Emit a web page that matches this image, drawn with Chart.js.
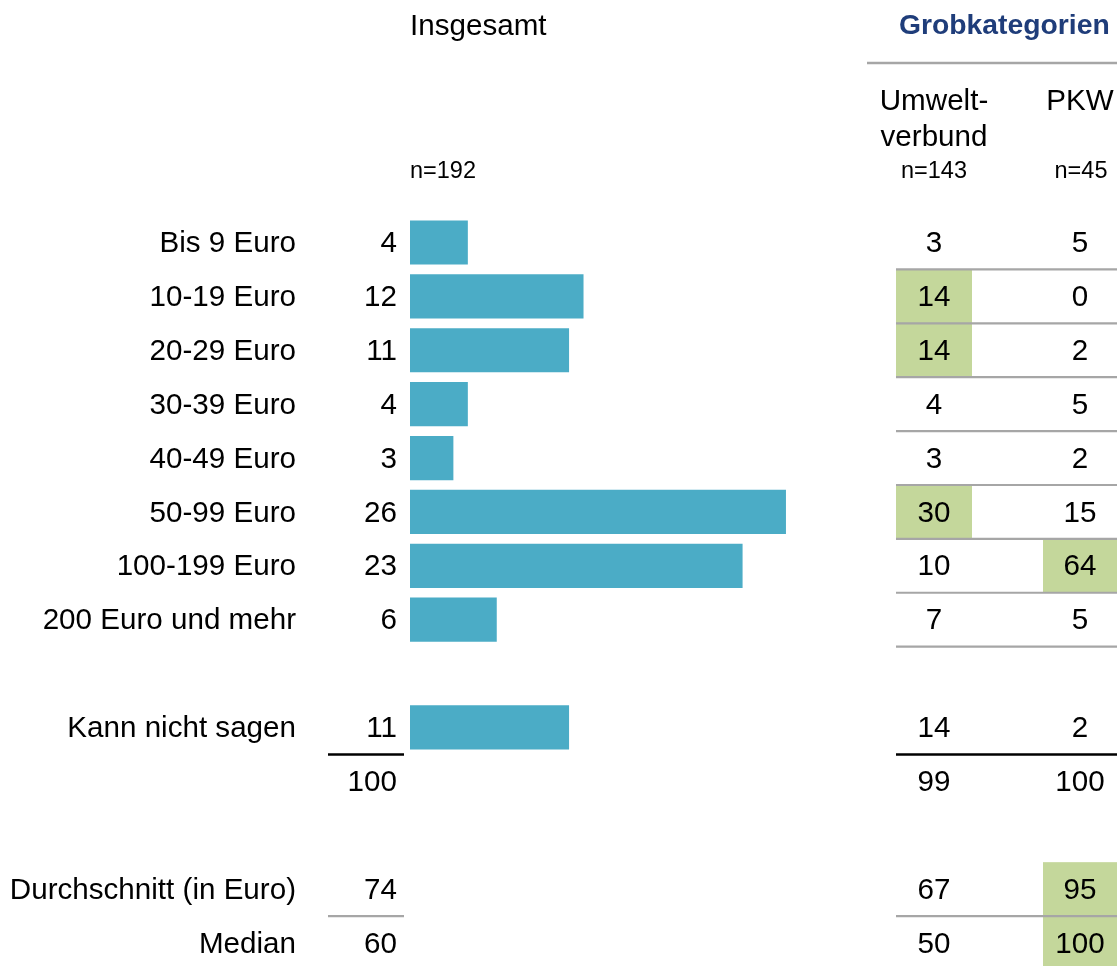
<!DOCTYPE html>
<html>
<head>
<meta charset="utf-8">
<script src="https://cdn.jsdelivr.net/npm/chart.js@4/dist/chart.umd.min.js"></script>
<style>
  html, body { margin: 0; padding: 0; background: #ffffff; }
  #wrap { width: 1117px; height: 966px; position: relative; }
</style>
</head>
<body>
<div id="wrap"><canvas id="c" width="1117" height="966"></canvas></div>
<script>
// ---- Data ----
const rowLabels = ['Bis 9 Euro', '10-19 Euro', '20-29 Euro', '30-39 Euro', '40-49 Euro',
  '50-99 Euro', '100-199 Euro', '200 Euro und mehr', '', 'Kann nicht sagen', '', '',
  'Durchschnitt (in Euro)', 'Median'];
const totalValues   = [4, 12, 11, 4, 3, 26, 23, 6, null, 11, 100, null, 74, 60];
const barValues     = [4, 12, 11, 4, 3, 26, 23, 6, null, 11, null, null, null, null];
const umweltValues  = [3, 14, 14, 4, 3, 30, 10, 7, null, 14, 99, null, 67, 50];
const pkwValues     = [5, 0, 2, 5, 2, 15, 64, 5, null, 2, 100, null, 95, 100];
const umweltHighlight = [false, true, true, false, false, true, false, false, false, false, false, false, false, false];
const pkwHighlight    = [false, false, false, false, false, false, true, false, false, false, false, false, true, true];
const headerTotal = 'Insgesamt';
const headerGroup = 'Grobkategorien';
const colHeaders = [['Umwelt-', 'verbund'], ['PKW']];
const nTotal = 'n=192';
const nCols = ['n=143', 'n=45'];

// ---- Styling constants ----
const FONT = '"Liberation Sans", Arial, sans-serif';
const F_MAIN = '29.6px ' + FONT;
const F_SMALL = '23.5px ' + FONT;
const F_BOLD = 'bold 28.3px ' + FONT;
const GRAY = '#a6a6a6';
const GREEN = '#c4d79b';
const BAR = '#4bacc6';
const COL_X = [934, 1080];
const CELL = [[896, 972], [1043, 1117]];
const TY = 1.5; // text vertical nudge

const tablePlugin = {
  id: 'tablePlugin',
  beforeDatasetsDraw(chart) {
    const ctx = chart.ctx;
    const y = chart.scales.y;
    const half = (y.getPixelForValue(1) - y.getPixelForValue(0)) / 2;
    ctx.save();
    ctx.fillStyle = GREEN;
    const hl = [umweltHighlight, pkwHighlight];
    hl.forEach((arr, c) => {
      arr.forEach((on, i) => {
        if (!on) return;
        const yc = y.getPixelForValue(i);
        ctx.fillRect(CELL[c][0], yc - half, CELL[c][1] - CELL[c][0], half * 2);
      });
    });
    ctx.restore();
  },
  afterDatasetsDraw(chart) {
    const ctx = chart.ctx;
    const y = chart.scales.y;
    const py = i => y.getPixelForValue(i);
    const between = i => (py(i) + py(i + 1)) / 2;
    ctx.save();

    // header texts
    ctx.fillStyle = '#000';
    ctx.textBaseline = 'middle';
    ctx.font = F_MAIN;
    ctx.textAlign = 'left';
    ctx.fillText(headerTotal, 410, 25 + TY);
    ctx.font = F_BOLD;
    ctx.fillStyle = '#1f3d7a';
    ctx.fillText(headerGroup, 899, 25 + TY);
    ctx.fillStyle = '#000';

    // underline of group header
    ctx.strokeStyle = GRAY;
    ctx.lineWidth = 2.5;
    ctx.beginPath(); ctx.moveTo(867, 63); ctx.lineTo(1117, 63); ctx.stroke();

    ctx.font = F_MAIN;
    ctx.textAlign = 'center';
    colHeaders.forEach((lines, c) => {
      lines.forEach((t, k) => ctx.fillText(t, COL_X[c], 100 + TY + k * 36));
    });
    ctx.font = F_SMALL;
    ctx.textAlign = 'left';
    ctx.fillText(nTotal, 410, 170 + TY);
    ctx.textAlign = 'center';
    ctx.fillText(nCols[0], COL_X[0], 170 + TY);
    ctx.fillText(nCols[1], COL_X[1] + 1, 170 + TY);

    // row labels and values
    ctx.font = F_MAIN;
    rowLabels.forEach((lab, i) => {
      const yc = py(i) + TY;
      if (lab) { ctx.textAlign = 'right'; ctx.fillText(lab, 296, yc); }
      if (totalValues[i] !== null) { ctx.textAlign = 'right'; ctx.fillText(String(totalValues[i]), 397, yc); }
      ctx.textAlign = 'center';
      if (umweltValues[i] !== null) ctx.fillText(String(umweltValues[i]), COL_X[0], yc);
      if (pkwValues[i] !== null) ctx.fillText(String(pkwValues[i]), COL_X[1], yc);
    });

    // separator lines in the group table
    ctx.strokeStyle = GRAY;
    ctx.lineWidth = 2.2;
    for (let i = 0; i <= 7; i++) {
      const yy = between(i);
      ctx.beginPath(); ctx.moveTo(896, yy); ctx.lineTo(1117, yy); ctx.stroke();
    }
    // total line (black)
    const yt = between(9);
    ctx.strokeStyle = '#000';
    ctx.lineWidth = 2.5;
    ctx.beginPath(); ctx.moveTo(328, yt); ctx.lineTo(404, yt); ctx.stroke();
    ctx.beginPath(); ctx.moveTo(896, yt); ctx.lineTo(1117, yt); ctx.stroke();
    // average/median separator (gray)
    const ym = between(12);
    ctx.strokeStyle = GRAY;
    ctx.lineWidth = 2.2;
    ctx.beginPath(); ctx.moveTo(328, ym); ctx.lineTo(404, ym); ctx.stroke();
    ctx.beginPath(); ctx.moveTo(896, ym); ctx.lineTo(1117, ym); ctx.stroke();

    ctx.restore();
  }
};

new Chart(document.getElementById('c'), {
  type: 'bar',
  data: {
    labels: rowLabels,
    datasets: [{
      data: barValues,
      backgroundColor: BAR,
      borderWidth: 0,
      barPercentage: 0.82,
      categoryPercentage: 1.0,
      clip: false
    }]
  },
  options: {
    indexAxis: 'y',
    responsive: false,
    animation: false,
    events: [],
    layout: { padding: { left: 410, top: 242.5, bottom: 23, right: 128.6 } },
    plugins: { legend: { display: false }, tooltip: { enabled: false } },
    scales: {
      x: { type: 'linear', min: 0, max: 40, display: false },
      y: { type: 'category', offset: false, display: false }
    }
  },
  plugins: [tablePlugin]
});
</script>
</body>
</html>
